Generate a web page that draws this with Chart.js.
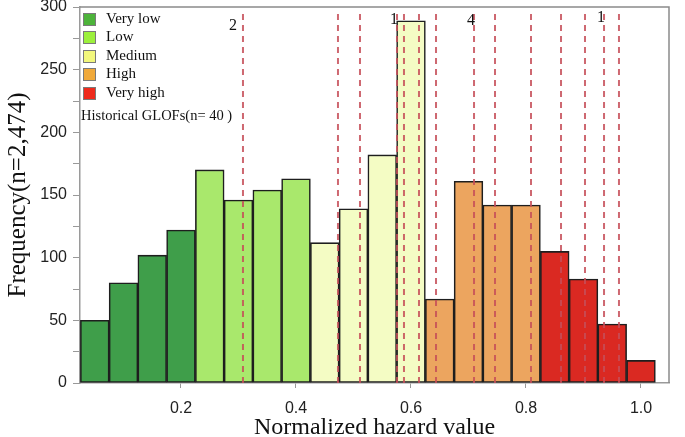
<!DOCTYPE html>
<html>
<head>
<meta charset="utf-8">
<script src="https://cdn.jsdelivr.net/npm/chart.js@4.4.1/dist/chart.umd.min.js"></script>
<style>
  html, body { margin: 0; padding: 0; background: #ffffff; }
  #wrap { width: 685px; height: 437px; }
</style>
</head>
<body>
<div id="wrap"><canvas id="c" width="685" height="437"></canvas></div>
<script>
// ---- data ----
const binCenters = [0.05,0.10,0.15,0.20,0.25,0.30,0.35,0.40,0.45,0.50,0.55,0.60,0.65,0.70,0.75,0.80,0.85,0.90,0.95,1.00];
const frequencies = [50,80,102,122,170,146,154,163,112,139,182,289,67,161,142,142,105,83,47,18];
const binClass = [0,0,0,0,1,1,1,1,2,2,2,2,3,3,3,3,4,4,4,4];
const classNames = ["Very low","Low","Medium","High","Very high"];
const barColors = ["#3f9e4a","#a9e86c","#f4fcc4","#eca55f","#da2922"];
const legendColors = ["#4db33a","#9cf03c","#f2f77c","#f0a93a","#ee2a1c"];
const glofLines = [0.3078,0.4730,0.5113,0.5757,0.5878,0.6139,0.6435,0.7096,0.7461,0.8087,0.8609,0.9026,0.9357,0.9617];
const glofLineTop = 296;
const glofLabels = ["2","1","4","1"];
const glofLabelX = [0.2904,0.5704,0.7043,0.9304];
const glofLabelY = [285,290,289,291];
const glofTotalText = "Historical GLOFs(n= 40 )";
const xTicks = [0.2,0.4,0.6,0.8,1.0];
const xTitle = "Normalized hazard value";
const yTitle = "Frequency(n=2,474)";

// ---- datasets ----
const datasets = [];
classNames.forEach((name, ci) => {
  const pts = [];
  binCenters.forEach((x, i) => { if (binClass[i] === ci) pts.push({x: x, y: frequencies[i]}); });
  datasets.push({
    type: 'bar', label: name, data: pts,
    backgroundColor: barColors[ci], borderColor: '#1e1e1e', borderWidth: 1.6,
    borderSkipped: false, grouped: false, barPercentage: 1, categoryPercentage: 1, order: 2
  });
});
glofLines.forEach((v) => {
  datasets.push({
    type: 'line', label: '_glof', data: [{x: v, y: 0}, {x: v, y: glofLineTop}],
    borderColor: 'rgba(198,78,88,0.85)', borderWidth: 2, borderDash: [6,5],
    pointRadius: 0, fill: false, order: 0
  });
});

const serif = "'Liberation Serif','Times New Roman',serif";
const sans = "'Liberation Sans',Arial,sans-serif";

const overlay = {
  id: 'overlay',
  afterDraw(chart) {
    const ctx = chart.ctx, a = chart.chartArea;
    const xs = chart.scales.x, ys = chart.scales.y;
    ctx.save();
    // frame top/right
    ctx.strokeStyle = '#8a8a8a'; ctx.lineWidth = 1.5;
    ctx.beginPath();
    ctx.moveTo(a.left, a.top); ctx.lineTo(a.right, a.top); ctx.lineTo(a.right, a.bottom);
    ctx.stroke();
    // legend
    const rowY = [13, 31, 50, 68, 87];
    ctx.font = "15px " + serif; ctx.textBaseline = 'middle'; ctx.textAlign = 'left';
    classNames.forEach((n, i) => {
      ctx.fillStyle = legendColors[i];
      ctx.fillRect(a.left + 3, rowY[i], 13, 13);
      ctx.strokeStyle = '#7a7a7a'; ctx.lineWidth = 1;
      ctx.strokeRect(a.left + 3.5, rowY[i] + 0.5, 12, 12);
      ctx.fillStyle = '#111';
      ctx.fillText(n, a.left + 26, rowY[i] + 6);
    });
    ctx.font = "14.5px " + serif;
    ctx.fillText(glofTotalText, a.left + 1, 116);
    // GLOF counts
    ctx.font = "16px " + serif; ctx.textAlign = 'center';
    glofLabels.forEach((t, i) => {
      ctx.fillText(t, xs.getPixelForValue(glofLabelX[i]), ys.getPixelForValue(glofLabelY[i]));
    });
    ctx.restore();
  }
};

new Chart(document.getElementById('c'), {
  type: 'bar',
  data: { datasets },
  options: {
    responsive: false, animation: false,
    layout: { padding: { top: 7, right: 16, left: 0, bottom: 0 } },
    plugins: { legend: { display: false }, tooltip: { enabled: false } },
    scales: {
      x: {
        type: 'linear', min: 0.02435, max: 1.0487, offset: false,
        afterBuildTicks: (s) => { s.ticks = xTicks.map(v => ({value: v})); },
        afterFit: (s) => { s.height = 54; s.paddingLeft = 0; s.paddingRight = 0; },
        grid: { display: true, drawOnChartArea: false, drawTicks: true, tickLength: 5, color: '#999', offset: false },
        border: { display: true, color: '#9a9a9a', width: 1.5 },
        ticks: { font: { family: sans, size: 16 }, color: '#222', padding: 11, maxRotation: 0,
                 callback: (v) => Number(v).toFixed(1) },
        title: { display: true, text: xTitle, font: { family: serif, size: 24 }, color: '#111', padding: { top: 0, bottom: -5 } }
      },
      y: {
        min: 0, max: 300,
        afterFit: (s) => { s.width = 80; s.paddingTop = 0; s.paddingBottom = 0; },
        grid: { display: true, drawOnChartArea: false, drawTicks: true, tickLength: 7, color: '#999' },
        border: { display: true, color: '#9a9a9a', width: 1.5 },
        ticks: { stepSize: 25, font: { family: sans, size: 16 }, color: '#222', padding: 6,
                 callback: (v) => (v % 50 === 0 ? String(v) : '') },
        title: { display: true, text: yTitle, font: { family: serif, size: 25 }, color: '#111', padding: { top: 3, bottom: 0 } }
      }
    }
  },
  plugins: [overlay]
});
</script>
</body>
</html>
